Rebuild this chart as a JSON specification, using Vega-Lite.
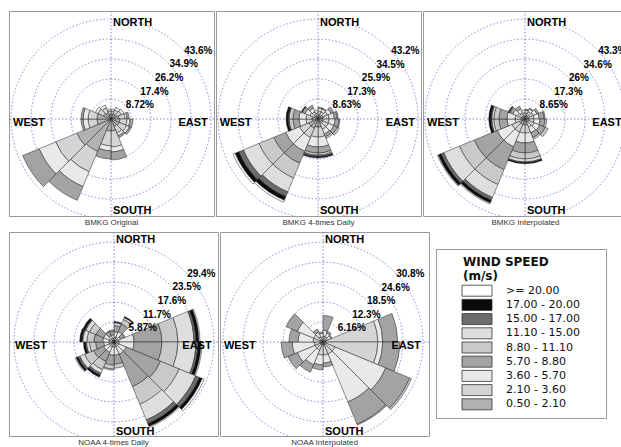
{
"$schema":"https://vega.github.io/schema/vega-lite/v6.json",
"padding":{"left":8,"top":10,"right":0,"bottom":0},
"background":"white",
"config":{"font":"Liberation Sans","view":{"stroke":"#9a9a9a","strokeWidth":1},"title":{"fontSize":8,"fontWeight":"normal","color":"#333","offset":3,"orient":"bottom"}},
"datasets":{
"w":[
{"p":1,"d":0,"c1":2.2,"c2":1.3,"c3":0.9},
{"p":1,"d":22.5,"c1":2.6,"c2":1.7,"c3":1.3},
{"p":1,"d":45,"c1":2.6,"c2":2.2,"c3":1.3},
{"p":1,"d":67.5,"c1":3.5,"c2":2.6,"c3":0.9,"c4":0.9},
{"p":1,"d":90,"c1":3.9,"c2":3.1,"c3":1.3,"c4":1.3},
{"p":1,"d":112.5,"c1":3.9,"c2":3.5,"c3":1.3,"c4":0.9},
{"p":1,"d":135,"c1":3.5,"c2":3.1,"c3":1.3,"c4":0.9},
{"p":1,"d":157.5,"c1":5.2,"c2":7.0,"c3":2.2,"c4":3.5},
{"p":1,"d":180,"c1":5.2,"c2":6.5,"c3":2.2,"c4":3.5},
{"p":1,"d":202.5,"c1":15.3,"c2":9.6,"c3":7.0,"c4":6.5},
{"p":1,"d":225,"c1":16.1,"c2":10.0,"c3":7.8,"c4":7.8},
{"p":1,"d":247.5,"c1":6.1,"c2":3.9,"c3":2.2,"c4":0.9},
{"p":1,"d":270,"c1":6.1,"c2":3.9,"c3":2.2,"c4":0.9},
{"p":1,"d":292.5,"c1":3.5,"c2":2.6,"c3":1.3},
{"p":1,"d":315,"c1":3.1,"c2":2.2,"c3":1.3},
{"p":1,"d":337.5,"c1":2.2,"c2":1.3,"c3":0.9},
{"p":2,"d":0,"c1":1.7,"c2":1.7,"c3":1.3,"c4":0.4},
{"p":2,"d":22.5,"c1":1.7,"c2":1.7,"c3":1.3,"c4":0.4},
{"p":2,"d":45,"c1":2.2,"c2":2.2,"c3":1.7,"c4":1.3},
{"p":2,"d":67.5,"c1":2.2,"c2":2.6,"c3":2.2,"c4":1.3,"c5":0.4},
{"p":2,"d":90,"c1":2.2,"c2":2.6,"c3":2.6,"c4":1.7,"c5":0.4},
{"p":2,"d":112.5,"c1":2.2,"c2":2.6,"c3":2.6,"c4":1.7,"c5":0.9},
{"p":2,"d":135,"c1":2.2,"c2":2.6,"c3":2.2,"c4":1.3,"c5":0.8},
{"p":2,"d":157.5,"c1":3.5,"c2":4.3,"c3":4.3,"c4":2.6,"c5":0.9,"c6":0.4,"c7":0.4,"c8":0.4},
{"p":2,"d":180,"c1":3.5,"c2":4.3,"c3":4.3,"c4":2.6,"c5":0.9,"c6":0.4,"c7":0.4,"c8":0.4},
{"p":2,"d":202.5,"c1":4.3,"c2":4.3,"c3":6.5,"c4":5.6,"c5":6.9,"c6":6.5,"c7":2.2,"c8":1.7,"c9":0.9},
{"p":2,"d":225,"c1":4.3,"c2":4.3,"c3":6.5,"c4":5.6,"c5":6.9,"c6":7.3,"c7":2.2,"c8":1.7,"c9":0.9},
{"p":2,"d":247.5,"c1":2.6,"c2":2.6,"c3":3.0,"c4":2.6,"c5":1.7,"c7":0.4,"c8":0.9},
{"p":2,"d":270,"c1":2.6,"c2":2.6,"c3":3.0,"c4":2.6,"c5":1.7,"c7":0.4,"c8":0.9},
{"p":2,"d":292.5,"c1":1.7,"c2":2.2,"c3":2.2,"c4":1.3,"c8":0.4},
{"p":2,"d":315,"c1":1.7,"c2":1.7,"c3":1.7,"c4":1.3},
{"p":2,"d":337.5,"c1":1.3,"c2":1.3,"c3":1.3},
{"p":3,"d":0,"c1":1.3,"c2":1.3,"c3":1.3,"c4":0.4},
{"p":3,"d":22.5,"c1":1.7,"c2":1.7,"c3":1.3,"c4":0.4},
{"p":3,"d":45,"c1":1.7,"c2":2.2,"c3":1.7,"c4":0.9},
{"p":3,"d":67.5,"c1":1.7,"c2":2.2,"c3":2.2,"c4":2.2,"c5":0.4},
{"p":3,"d":90,"c1":1.7,"c2":2.2,"c3":2.6,"c4":2.2,"c5":0.8},
{"p":3,"d":112.5,"c1":1.7,"c2":2.6,"c3":2.6,"c4":2.6,"c5":1.3},
{"p":3,"d":135,"c1":1.7,"c2":2.2,"c3":2.6,"c4":2.2,"c5":0.8},
{"p":3,"d":157.5,"c1":2.6,"c2":3.5,"c3":4.3,"c4":4.3,"c5":2.6,"c6":1.3,"c7":0.4,"c8":0.4},
{"p":3,"d":180,"c1":2.6,"c2":3.5,"c3":4.3,"c4":4.3,"c5":2.6,"c6":1.3,"c7":0.4,"c8":0.4},
{"p":3,"d":202.5,"c1":2.6,"c2":3.5,"c3":6.9,"c4":10.8,"c5":6.9,"c6":6.1,"c7":1.3,"c8":1.3,"c9":0.4},
{"p":3,"d":225,"c1":2.6,"c2":3.5,"c3":6.9,"c4":10.8,"c5":6.9,"c6":7.4,"c7":1.3,"c8":1.3,"c9":0.4},
{"p":3,"d":247.5,"c1":1.7,"c2":2.6,"c3":3.5,"c4":3.5,"c5":2.2,"c6":0.9,"c7":0.4,"c8":0.9},
{"p":3,"d":270,"c1":1.7,"c2":2.6,"c3":3.5,"c4":3.5,"c5":2.2,"c6":0.9,"c7":0.4,"c8":0.9},
{"p":3,"d":292.5,"c1":1.3,"c2":2.2,"c3":2.2,"c4":1.3,"c5":0.4,"c8":0.4},
{"p":3,"d":315,"c1":1.3,"c2":1.7,"c3":1.7,"c4":1.3},
{"p":3,"d":337.5,"c1":1.3,"c2":1.3,"c3":1.3},
{"p":4,"d":0,"c1":0.6,"c2":0.9,"c3":1.5,"c4":1.8,"c5":0.9,"c8":0.3},
{"p":4,"d":22.5,"c1":0.6,"c2":0.9,"c3":1.8,"c4":2.4,"c5":1.5,"c6":0.6,"c8":0.3},
{"p":4,"d":45,"c1":0.6,"c2":0.6,"c3":0.9,"c4":1.2,"c5":0.3},
{"p":4,"d":67.5,"c1":0.6,"c2":0.9,"c3":4.4,"c4":8.2,"c5":4.7,"c6":4.7,"c7":0.6,"c8":0.9,"c9":0.3},
{"p":4,"d":90,"c1":0.6,"c2":0.9,"c3":4.4,"c4":8.2,"c5":4.7,"c6":5.3,"c7":0.6,"c8":0.9,"c9":0.3},
{"p":4,"d":112.5,"c1":0.6,"c2":0.9,"c3":2.4,"c4":10.9,"c5":5.9,"c6":5.3,"c7":1.2,"c8":0.9,"c9":0.6},
{"p":4,"d":135,"c1":0.6,"c2":0.9,"c3":2.4,"c4":10.3,"c5":5.6,"c6":5.0,"c7":1.2,"c8":0.9,"c9":0.3},
{"p":4,"d":157.5,"c1":0.6,"c2":0.9,"c3":2.4,"c4":2.6,"c5":1.2},
{"p":4,"d":180,"c1":0.6,"c2":0.9,"c3":2.4,"c4":2.9,"c5":1.2,"c6":0.3},
{"p":4,"d":202.5,"c1":0.6,"c2":0.9,"c3":1.8,"c4":2.9,"c5":2.6,"c6":1.2,"c7":0.6,"c8":0.6},
{"p":4,"d":225,"c1":0.6,"c2":0.9,"c3":1.8,"c4":3.2,"c5":2.9,"c6":1.5,"c7":0.6,"c8":0.6,"c9":0.3},
{"p":4,"d":247.5,"c1":0.6,"c2":0.9,"c3":1.5,"c4":2.4,"c5":1.8,"c6":0.9,"c7":0.3,"c8":0.6},
{"p":4,"d":270,"c1":0.6,"c2":0.9,"c3":1.8,"c4":2.6,"c5":2.1,"c6":1.2,"c7":0.3,"c8":0.6},
{"p":4,"d":292.5,"c1":0.6,"c2":0.9,"c3":1.8,"c4":2.4,"c5":2.1,"c6":1.2,"c7":0.3,"c8":0.6},
{"p":4,"d":315,"c1":0.6,"c2":0.6,"c3":0.9,"c4":1.2,"c5":0.3},
{"p":4,"d":337.5,"c1":0.6,"c2":0.6,"c3":0.9,"c4":1.2,"c5":0.3},
{"p":5,"d":0,"c1":0.6,"c2":1.2,"c3":1.8,"c4":4.6},
{"p":5,"d":22.5,"c1":0.6,"c2":1.2,"c3":1.2,"c4":0.6},
{"p":5,"d":45,"c1":0.6,"c2":0.9,"c3":1.2,"c4":0.3},
{"p":5,"d":67.5,"c1":0.9,"c2":16.0,"c3":1.5,"c4":4.6},
{"p":5,"d":90,"c1":0.9,"c2":16.0,"c3":1.5,"c4":5.3},
{"p":5,"d":112.5,"c1":0.9,"c2":3.1,"c3":16.9,"c4":8.0,"c5":0.6},
{"p":5,"d":135,"c1":0.9,"c2":3.1,"c3":16.0,"c4":7.4,"c5":0.3},
{"p":5,"d":157.5,"c1":0.9,"c2":3.1,"c3":2.5,"c4":1.2},
{"p":5,"d":180,"c1":0.9,"c2":3.1,"c3":3.1,"c4":1.5},
{"p":5,"d":202.5,"c1":0.9,"c2":1.8,"c3":4.9,"c4":2.5},
{"p":5,"d":225,"c1":0.9,"c2":1.8,"c3":5.9,"c4":3.1},
{"p":5,"d":247.5,"c1":0.9,"c2":1.8,"c3":6.8,"c4":3.4},
{"p":5,"d":270,"c1":0.9,"c2":2.2,"c3":4.6,"c4":2.8},
{"p":5,"d":292.5,"c1":0.9,"c2":2.2,"c3":5.5,"c4":3.7},
{"p":5,"d":315,"c1":0.6,"c2":1.2,"c3":1.5,"c4":1.0},
{"p":5,"d":337.5,"c1":0.6,"c2":0.9,"c3":1.2,"c4":0.4}
],
"rg":[
{"p":1,"r":8.72,"l":"8.72%"},{"p":1,"r":17.4,"l":"17.4%"},{"p":1,"r":26.2,"l":"26.2%"},{"p":1,"r":34.9,"l":"34.9%"},{"p":1,"r":43.6,"l":"43.6%"},
{"p":2,"r":8.63,"l":"8.63%"},{"p":2,"r":17.3,"l":"17.3%"},{"p":2,"r":25.9,"l":"25.9%"},{"p":2,"r":34.5,"l":"34.5%"},{"p":2,"r":43.2,"l":"43.2%"},
{"p":3,"r":8.65,"l":"8.65%"},{"p":3,"r":17.3,"l":"17.3%"},{"p":3,"r":26,"l":"26%"},{"p":3,"r":34.6,"l":"34.6%"},{"p":3,"r":43.3,"l":"43.3%"},
{"p":4,"r":5.87,"l":"5.87%"},{"p":4,"r":11.7,"l":"11.7%"},{"p":4,"r":17.6,"l":"17.6%"},{"p":4,"r":23.5,"l":"23.5%"},{"p":4,"r":29.4,"l":"29.4%"},
{"p":5,"r":6.16,"l":"6.16%"},{"p":5,"r":12.3,"l":"12.3%"},{"p":5,"r":18.5,"l":"18.5%"},{"p":5,"r":24.6,"l":"24.6%"},{"p":5,"r":30.8,"l":"30.8%"}
],
"cls":[
{"k":"c9","label":">= 20.00"},{"k":"c8","label":"17.00 - 20.00"},{"k":"c7","label":"15.00 - 17.00"},{"k":"c6","label":"11.10 - 15.00"},{"k":"c5","label":"8.80 - 11.10"},{"k":"c4","label":"5.70 - 8.80"},{"k":"c3","label":"3.60 - 5.70"},{"k":"c2","label":"2.10 - 3.60"},{"k":"c1","label":"0.50 - 2.10"}
]
},
"spacing":1,
"resolve":{"scale":{"x":"independent","y":"independent","theta":"independent","radius":"independent","fill":"independent"}},
"vconcat":[
{"spacing":0,
"resolve":{"scale":{"x":"independent","y":"independent","theta":"independent","radius":"independent","fill":"independent"}},
"hconcat":[
{"width":205,"height":205,"title":{"text":"BMKG Original"},
"layer":[
{"data":{"name":"rg"},"transform":[{"filter":"datum.p == 1"}],
"mark":{"type":"arc","filled":false,"stroke":"#7b7bd8","strokeWidth":0.9,"strokeDash":[1.5,2],"theta":0,"theta2":6.2832,"clip":true},
"encoding":{"x":{"datum":0,"type":"quantitative","scale":{"domain":[-102,103],"nice":false,"zero":false},"axis":null},"y":{"datum":0,"type":"quantitative","scale":{"domain":[-97,108],"nice":false,"zero":false},"axis":null},"radius":{"field":"r","type":"quantitative","scale":{"type":"linear","domain":[0,43.6],"range":[0,100],"nice":false},"stack":null}}},
{"data":{"values":[{}]},"mark":{"type":"rule","stroke":"#7b7bd8","strokeWidth":0.9,"strokeDash":[1.5,2]},
"encoding":{"x":{"datum":0,"type":"quantitative","scale":{"domain":[-102,103],"nice":false,"zero":false},"axis":null}}},
{"data":{"values":[{}]},"mark":{"type":"rule","stroke":"#7b7bd8","strokeWidth":0.9,"strokeDash":[1.5,2]},
"encoding":{"y":{"datum":0,"type":"quantitative","scale":{"domain":[-97,108],"nice":false,"zero":false},"axis":null}}},
{"data":{"name":"w"},"transform":[{"filter":"datum.p == 1"},{"fold":["c1","c2","c3","c4","c5","c6","c7","c8","c9"],"as":["k","v"]},{"filter":"datum.v > 0"},{"bin":{"step":22.5,"extent":[0,360],"nice":false},"field":"d","as":["a0","a1"]},{"stack":"v","groupby":["d"],"sort":[{"field":"k","order":"ascending"}],"as":["r0","r1"]}],
"mark":{"type":"arc","stroke":"#222","strokeWidth":0.5},
"encoding":{"x":{"datum":0,"type":"quantitative","scale":{"domain":[-102,103],"nice":false,"zero":false},"axis":null},"y":{"datum":0,"type":"quantitative","scale":{"domain":[-97,108],"nice":false,"zero":false},"axis":null},
"theta":{"field":"a0","type":"quantitative","scale":{"type":"linear","domain":[0,360],"range":[0,6.2832],"nice":false,"zero":false},"stack":null},"theta2":{"field":"a1"},
"radius":{"field":"r1","type":"quantitative","scale":{"type":"linear","domain":[0,43.6],"range":[0,100],"nice":false},"stack":null},"radius2":{"field":"r0"},
"fill":{"field":"k","type":"nominal","scale":{"domain":["c1","c2","c3","c4","c5","c6","c7","c8","c9"],"range":["#b2b2b2","#d4d4d4","#e9e9e9","#a3a3a3","#c9c9c9","#dedede","#6c6c6c","#0a0a0a","#ffffff"]},"legend":null}}},
{"data":{"name":"rg"},"transform":[{"filter":"datum.p == 1"}],
"mark":{"type":"text","align":"left","baseline":"middle","fontWeight":"bold","fontSize":10,"clip":true},
"encoding":{"x":{"datum":0,"type":"quantitative","scale":{"domain":[-102,103],"nice":false,"zero":false},"axis":null},"y":{"datum":0,"type":"quantitative","scale":{"domain":[-97,108],"nice":false,"zero":false},"axis":null},"theta":{"datum":47,"type":"quantitative","scale":{"type":"linear","domain":[0,360],"range":[0,6.2832],"nice":false,"zero":false},"stack":null},"radius":{"field":"r","type":"quantitative","scale":{"type":"linear","domain":[0,43.6],"range":[0,100],"nice":false},"stack":null},"text":{"field":"l"}}},
{"data":{"values":[{"t":"NORTH","a":0}]},"mark":{"type":"text","align":"left","baseline":"middle","dx":2,"fontWeight":"bold","fontSize":11,"clip":true},
"encoding":{"x":{"datum":0,"type":"quantitative","scale":{"domain":[-102,103],"nice":false,"zero":false},"axis":null},"y":{"datum":0,"type":"quantitative","scale":{"domain":[-97,108],"nice":false,"zero":false},"axis":null},"theta":{"field":"a","type":"quantitative","scale":{"type":"linear","domain":[0,360],"range":[0,6.2832],"nice":false,"zero":false},"stack":null},"radius":{"datum":41.9,"type":"quantitative","scale":{"type":"linear","domain":[0,43.6],"range":[0,100],"nice":false},"stack":null},"text":{"field":"t"}}},
{"data":{"values":[{"t":"SOUTH","a":180}]},"mark":{"type":"text","align":"left","baseline":"middle","dx":2,"fontWeight":"bold","fontSize":11,"clip":true},
"encoding":{"x":{"datum":0,"type":"quantitative","scale":{"domain":[-102,103],"nice":false,"zero":false},"axis":null},"y":{"datum":0,"type":"quantitative","scale":{"domain":[-97,108],"nice":false,"zero":false},"axis":null},"theta":{"field":"a","type":"quantitative","scale":{"type":"linear","domain":[0,360],"range":[0,6.2832],"nice":false,"zero":false},"stack":null},"radius":{"datum":40.1,"type":"quantitative","scale":{"type":"linear","domain":[0,43.6],"range":[0,100],"nice":false},"stack":null},"text":{"field":"t"}}},
{"data":{"values":[{"t":"WEST","a":270},{"t":"EAST","a":90}]},"mark":{"type":"text","align":"center","baseline":"middle","dy":4,"fontWeight":"bold","fontSize":11,"clip":true},
"encoding":{"x":{"datum":0,"type":"quantitative","scale":{"domain":[-102,103],"nice":false,"zero":false},"axis":null},"y":{"datum":0,"type":"quantitative","scale":{"domain":[-97,108],"nice":false,"zero":false},"axis":null},"theta":{"field":"a","type":"quantitative","scale":{"type":"linear","domain":[0,360],"range":[0,6.2832],"nice":false,"zero":false},"stack":null},"radius":{"datum":35.8,"type":"quantitative","scale":{"type":"linear","domain":[0,43.6],"range":[0,100],"nice":false},"stack":null},"text":{"field":"t"}}}
]},
{"width":205,"height":205,"title":{"text":"BMKG 4-times Daily"},
"layer":[
{"data":{"name":"rg"},"transform":[{"filter":"datum.p == 2"}],
"mark":{"type":"arc","filled":false,"stroke":"#7b7bd8","strokeWidth":0.9,"strokeDash":[1.5,2],"theta":0,"theta2":6.2832,"clip":true},
"encoding":{"x":{"datum":0,"type":"quantitative","scale":{"domain":[-102,103],"nice":false,"zero":false},"axis":null},"y":{"datum":0,"type":"quantitative","scale":{"domain":[-97,108],"nice":false,"zero":false},"axis":null},"radius":{"field":"r","type":"quantitative","scale":{"type":"linear","domain":[0,43.2],"range":[0,100],"nice":false},"stack":null}}},
{"data":{"values":[{}]},"mark":{"type":"rule","stroke":"#7b7bd8","strokeWidth":0.9,"strokeDash":[1.5,2]},
"encoding":{"x":{"datum":0,"type":"quantitative","scale":{"domain":[-102,103],"nice":false,"zero":false},"axis":null}}},
{"data":{"values":[{}]},"mark":{"type":"rule","stroke":"#7b7bd8","strokeWidth":0.9,"strokeDash":[1.5,2]},
"encoding":{"y":{"datum":0,"type":"quantitative","scale":{"domain":[-97,108],"nice":false,"zero":false},"axis":null}}},
{"data":{"name":"w"},"transform":[{"filter":"datum.p == 2"},{"fold":["c1","c2","c3","c4","c5","c6","c7","c8","c9"],"as":["k","v"]},{"filter":"datum.v > 0"},{"bin":{"step":22.5,"extent":[0,360],"nice":false},"field":"d","as":["a0","a1"]},{"stack":"v","groupby":["d"],"sort":[{"field":"k","order":"ascending"}],"as":["r0","r1"]}],
"mark":{"type":"arc","stroke":"#222","strokeWidth":0.5},
"encoding":{"x":{"datum":0,"type":"quantitative","scale":{"domain":[-102,103],"nice":false,"zero":false},"axis":null},"y":{"datum":0,"type":"quantitative","scale":{"domain":[-97,108],"nice":false,"zero":false},"axis":null},
"theta":{"field":"a0","type":"quantitative","scale":{"type":"linear","domain":[0,360],"range":[0,6.2832],"nice":false,"zero":false},"stack":null},"theta2":{"field":"a1"},
"radius":{"field":"r1","type":"quantitative","scale":{"type":"linear","domain":[0,43.2],"range":[0,100],"nice":false},"stack":null},"radius2":{"field":"r0"},
"fill":{"field":"k","type":"nominal","scale":{"domain":["c1","c2","c3","c4","c5","c6","c7","c8","c9"],"range":["#b2b2b2","#d4d4d4","#e9e9e9","#a3a3a3","#c9c9c9","#dedede","#6c6c6c","#0a0a0a","#ffffff"]},"legend":null}}},
{"data":{"name":"rg"},"transform":[{"filter":"datum.p == 2"}],
"mark":{"type":"text","align":"left","baseline":"middle","fontWeight":"bold","fontSize":10,"clip":true},
"encoding":{"x":{"datum":0,"type":"quantitative","scale":{"domain":[-102,103],"nice":false,"zero":false},"axis":null},"y":{"datum":0,"type":"quantitative","scale":{"domain":[-97,108],"nice":false,"zero":false},"axis":null},"theta":{"datum":47,"type":"quantitative","scale":{"type":"linear","domain":[0,360],"range":[0,6.2832],"nice":false,"zero":false},"stack":null},"radius":{"field":"r","type":"quantitative","scale":{"type":"linear","domain":[0,43.2],"range":[0,100],"nice":false},"stack":null},"text":{"field":"l"}}},
{"data":{"values":[{"t":"NORTH","a":0}]},"mark":{"type":"text","align":"left","baseline":"middle","dx":2,"fontWeight":"bold","fontSize":11,"clip":true},
"encoding":{"x":{"datum":0,"type":"quantitative","scale":{"domain":[-102,103],"nice":false,"zero":false},"axis":null},"y":{"datum":0,"type":"quantitative","scale":{"domain":[-97,108],"nice":false,"zero":false},"axis":null},"theta":{"field":"a","type":"quantitative","scale":{"type":"linear","domain":[0,360],"range":[0,6.2832],"nice":false,"zero":false},"stack":null},"radius":{"datum":41.5,"type":"quantitative","scale":{"type":"linear","domain":[0,43.2],"range":[0,100],"nice":false},"stack":null},"text":{"field":"t"}}},
{"data":{"values":[{"t":"SOUTH","a":180}]},"mark":{"type":"text","align":"left","baseline":"middle","dx":2,"fontWeight":"bold","fontSize":11,"clip":true},
"encoding":{"x":{"datum":0,"type":"quantitative","scale":{"domain":[-102,103],"nice":false,"zero":false},"axis":null},"y":{"datum":0,"type":"quantitative","scale":{"domain":[-97,108],"nice":false,"zero":false},"axis":null},"theta":{"field":"a","type":"quantitative","scale":{"type":"linear","domain":[0,360],"range":[0,6.2832],"nice":false,"zero":false},"stack":null},"radius":{"datum":39.7,"type":"quantitative","scale":{"type":"linear","domain":[0,43.2],"range":[0,100],"nice":false},"stack":null},"text":{"field":"t"}}},
{"data":{"values":[{"t":"WEST","a":270},{"t":"EAST","a":90}]},"mark":{"type":"text","align":"center","baseline":"middle","dy":4,"fontWeight":"bold","fontSize":11,"clip":true},
"encoding":{"x":{"datum":0,"type":"quantitative","scale":{"domain":[-102,103],"nice":false,"zero":false},"axis":null},"y":{"datum":0,"type":"quantitative","scale":{"domain":[-97,108],"nice":false,"zero":false},"axis":null},"theta":{"field":"a","type":"quantitative","scale":{"type":"linear","domain":[0,360],"range":[0,6.2832],"nice":false,"zero":false},"stack":null},"radius":{"datum":35.6,"type":"quantitative","scale":{"type":"linear","domain":[0,43.2],"range":[0,100],"nice":false},"stack":null},"text":{"field":"t"}}}
]},
{"width":205,"height":205,"title":{"text":"BMKG Interpolated"},
"layer":[
{"data":{"name":"rg"},"transform":[{"filter":"datum.p == 3"}],
"mark":{"type":"arc","filled":false,"stroke":"#7b7bd8","strokeWidth":0.9,"strokeDash":[1.5,2],"theta":0,"theta2":6.2832,"clip":true},
"encoding":{"x":{"datum":0,"type":"quantitative","scale":{"domain":[-102,103],"nice":false,"zero":false},"axis":null},"y":{"datum":0,"type":"quantitative","scale":{"domain":[-97,108],"nice":false,"zero":false},"axis":null},"radius":{"field":"r","type":"quantitative","scale":{"type":"linear","domain":[0,43.3],"range":[0,100],"nice":false},"stack":null}}},
{"data":{"values":[{}]},"mark":{"type":"rule","stroke":"#7b7bd8","strokeWidth":0.9,"strokeDash":[1.5,2]},
"encoding":{"x":{"datum":0,"type":"quantitative","scale":{"domain":[-102,103],"nice":false,"zero":false},"axis":null}}},
{"data":{"values":[{}]},"mark":{"type":"rule","stroke":"#7b7bd8","strokeWidth":0.9,"strokeDash":[1.5,2]},
"encoding":{"y":{"datum":0,"type":"quantitative","scale":{"domain":[-97,108],"nice":false,"zero":false},"axis":null}}},
{"data":{"name":"w"},"transform":[{"filter":"datum.p == 3"},{"fold":["c1","c2","c3","c4","c5","c6","c7","c8","c9"],"as":["k","v"]},{"filter":"datum.v > 0"},{"bin":{"step":22.5,"extent":[0,360],"nice":false},"field":"d","as":["a0","a1"]},{"stack":"v","groupby":["d"],"sort":[{"field":"k","order":"ascending"}],"as":["r0","r1"]}],
"mark":{"type":"arc","stroke":"#222","strokeWidth":0.5},
"encoding":{"x":{"datum":0,"type":"quantitative","scale":{"domain":[-102,103],"nice":false,"zero":false},"axis":null},"y":{"datum":0,"type":"quantitative","scale":{"domain":[-97,108],"nice":false,"zero":false},"axis":null},
"theta":{"field":"a0","type":"quantitative","scale":{"type":"linear","domain":[0,360],"range":[0,6.2832],"nice":false,"zero":false},"stack":null},"theta2":{"field":"a1"},
"radius":{"field":"r1","type":"quantitative","scale":{"type":"linear","domain":[0,43.3],"range":[0,100],"nice":false},"stack":null},"radius2":{"field":"r0"},
"fill":{"field":"k","type":"nominal","scale":{"domain":["c1","c2","c3","c4","c5","c6","c7","c8","c9"],"range":["#b2b2b2","#d4d4d4","#e9e9e9","#a3a3a3","#c9c9c9","#dedede","#6c6c6c","#0a0a0a","#ffffff"]},"legend":null}}},
{"data":{"name":"rg"},"transform":[{"filter":"datum.p == 3"}],
"mark":{"type":"text","align":"left","baseline":"middle","fontWeight":"bold","fontSize":10,"clip":true},
"encoding":{"x":{"datum":0,"type":"quantitative","scale":{"domain":[-102,103],"nice":false,"zero":false},"axis":null},"y":{"datum":0,"type":"quantitative","scale":{"domain":[-97,108],"nice":false,"zero":false},"axis":null},"theta":{"datum":47,"type":"quantitative","scale":{"type":"linear","domain":[0,360],"range":[0,6.2832],"nice":false,"zero":false},"stack":null},"radius":{"field":"r","type":"quantitative","scale":{"type":"linear","domain":[0,43.3],"range":[0,100],"nice":false},"stack":null},"text":{"field":"l"}}},
{"data":{"values":[{"t":"NORTH","a":0}]},"mark":{"type":"text","align":"left","baseline":"middle","dx":2,"fontWeight":"bold","fontSize":11,"clip":true},
"encoding":{"x":{"datum":0,"type":"quantitative","scale":{"domain":[-102,103],"nice":false,"zero":false},"axis":null},"y":{"datum":0,"type":"quantitative","scale":{"domain":[-97,108],"nice":false,"zero":false},"axis":null},"theta":{"field":"a","type":"quantitative","scale":{"type":"linear","domain":[0,360],"range":[0,6.2832],"nice":false,"zero":false},"stack":null},"radius":{"datum":41.6,"type":"quantitative","scale":{"type":"linear","domain":[0,43.3],"range":[0,100],"nice":false},"stack":null},"text":{"field":"t"}}},
{"data":{"values":[{"t":"SOUTH","a":180}]},"mark":{"type":"text","align":"left","baseline":"middle","dx":2,"fontWeight":"bold","fontSize":11,"clip":true},
"encoding":{"x":{"datum":0,"type":"quantitative","scale":{"domain":[-102,103],"nice":false,"zero":false},"axis":null},"y":{"datum":0,"type":"quantitative","scale":{"domain":[-97,108],"nice":false,"zero":false},"axis":null},"theta":{"field":"a","type":"quantitative","scale":{"type":"linear","domain":[0,360],"range":[0,6.2832],"nice":false,"zero":false},"stack":null},"radius":{"datum":39.8,"type":"quantitative","scale":{"type":"linear","domain":[0,43.3],"range":[0,100],"nice":false},"stack":null},"text":{"field":"t"}}},
{"data":{"values":[{"t":"WEST","a":270},{"t":"EAST","a":90}]},"mark":{"type":"text","align":"center","baseline":"middle","dy":4,"fontWeight":"bold","fontSize":11,"clip":true},
"encoding":{"x":{"datum":0,"type":"quantitative","scale":{"domain":[-102,103],"nice":false,"zero":false},"axis":null},"y":{"datum":0,"type":"quantitative","scale":{"domain":[-97,108],"nice":false,"zero":false},"axis":null},"theta":{"field":"a","type":"quantitative","scale":{"type":"linear","domain":[0,360],"range":[0,6.2832],"nice":false,"zero":false},"stack":null},"radius":{"datum":35.5,"type":"quantitative","scale":{"type":"linear","domain":[0,43.3],"range":[0,100],"nice":false},"stack":null},"text":{"field":"t"}}}
]}
]},
{"spacing":5,
"resolve":{"scale":{"x":"independent","y":"independent","theta":"independent","radius":"independent","fill":"independent"}},
"hconcat":[
{"spacing":0,
"resolve":{"scale":{"x":"independent","y":"independent","theta":"independent","radius":"independent","fill":"independent"}},
"hconcat":[
{"width":209,"height":204,"title":{"text":"NOAA 4-times Daily"},
"layer":[
{"data":{"name":"rg"},"transform":[{"filter":"datum.p == 4"}],
"mark":{"type":"arc","filled":false,"stroke":"#7b7bd8","strokeWidth":0.9,"strokeDash":[1.5,2],"theta":0,"theta2":6.2832,"clip":true},
"encoding":{"x":{"datum":0,"type":"quantitative","scale":{"domain":[-105,104],"nice":false,"zero":false},"axis":null},"y":{"datum":0,"type":"quantitative","scale":{"domain":[-94,110],"nice":false,"zero":false},"axis":null},"radius":{"field":"r","type":"quantitative","scale":{"type":"linear","domain":[0,29.4],"range":[0,100],"nice":false},"stack":null}}},
{"data":{"values":[{}]},"mark":{"type":"rule","stroke":"#7b7bd8","strokeWidth":0.9,"strokeDash":[1.5,2]},
"encoding":{"x":{"datum":0,"type":"quantitative","scale":{"domain":[-105,104],"nice":false,"zero":false},"axis":null}}},
{"data":{"values":[{}]},"mark":{"type":"rule","stroke":"#7b7bd8","strokeWidth":0.9,"strokeDash":[1.5,2]},
"encoding":{"y":{"datum":0,"type":"quantitative","scale":{"domain":[-94,110],"nice":false,"zero":false},"axis":null}}},
{"data":{"name":"w"},"transform":[{"filter":"datum.p == 4"},{"fold":["c1","c2","c3","c4","c5","c6","c7","c8","c9"],"as":["k","v"]},{"filter":"datum.v > 0"},{"bin":{"step":22.5,"extent":[0,360],"nice":false},"field":"d","as":["a0","a1"]},{"stack":"v","groupby":["d"],"sort":[{"field":"k","order":"ascending"}],"as":["r0","r1"]}],
"mark":{"type":"arc","stroke":"#222","strokeWidth":0.5},
"encoding":{"x":{"datum":0,"type":"quantitative","scale":{"domain":[-105,104],"nice":false,"zero":false},"axis":null},"y":{"datum":0,"type":"quantitative","scale":{"domain":[-94,110],"nice":false,"zero":false},"axis":null},
"theta":{"field":"a0","type":"quantitative","scale":{"type":"linear","domain":[0,360],"range":[0,6.2832],"nice":false,"zero":false},"stack":null},"theta2":{"field":"a1"},
"radius":{"field":"r1","type":"quantitative","scale":{"type":"linear","domain":[0,29.4],"range":[0,100],"nice":false},"stack":null},"radius2":{"field":"r0"},
"fill":{"field":"k","type":"nominal","scale":{"domain":["c1","c2","c3","c4","c5","c6","c7","c8","c9"],"range":["#b2b2b2","#d4d4d4","#e9e9e9","#a3a3a3","#c9c9c9","#dedede","#6c6c6c","#0a0a0a","#ffffff"]},"legend":null}}},
{"data":{"name":"rg"},"transform":[{"filter":"datum.p == 4"}],
"mark":{"type":"text","align":"left","baseline":"middle","fontWeight":"bold","fontSize":10,"clip":true},
"encoding":{"x":{"datum":0,"type":"quantitative","scale":{"domain":[-105,104],"nice":false,"zero":false},"axis":null},"y":{"datum":0,"type":"quantitative","scale":{"domain":[-94,110],"nice":false,"zero":false},"axis":null},"theta":{"datum":47,"type":"quantitative","scale":{"type":"linear","domain":[0,360],"range":[0,6.2832],"nice":false,"zero":false},"stack":null},"radius":{"field":"r","type":"quantitative","scale":{"type":"linear","domain":[0,29.4],"range":[0,100],"nice":false},"stack":null},"text":{"field":"l"}}},
{"data":{"values":[{"t":"NORTH","a":0}]},"mark":{"type":"text","align":"left","baseline":"middle","dx":2,"fontWeight":"bold","fontSize":11,"clip":true},
"encoding":{"x":{"datum":0,"type":"quantitative","scale":{"domain":[-105,104],"nice":false,"zero":false},"axis":null},"y":{"datum":0,"type":"quantitative","scale":{"domain":[-94,110],"nice":false,"zero":false},"axis":null},"theta":{"field":"a","type":"quantitative","scale":{"type":"linear","domain":[0,360],"range":[0,6.2832],"nice":false,"zero":false},"stack":null},"radius":{"datum":30.0,"type":"quantitative","scale":{"type":"linear","domain":[0,29.4],"range":[0,100],"nice":false},"stack":null},"text":{"field":"t"}}},
{"data":{"values":[{"t":"SOUTH","a":180}]},"mark":{"type":"text","align":"left","baseline":"middle","dx":2,"fontWeight":"bold","fontSize":11,"clip":true},
"encoding":{"x":{"datum":0,"type":"quantitative","scale":{"domain":[-105,104],"nice":false,"zero":false},"axis":null},"y":{"datum":0,"type":"quantitative","scale":{"domain":[-94,110],"nice":false,"zero":false},"axis":null},"theta":{"field":"a","type":"quantitative","scale":{"type":"linear","domain":[0,360],"range":[0,6.2832],"nice":false,"zero":false},"stack":null},"radius":{"datum":26.5,"type":"quantitative","scale":{"type":"linear","domain":[0,29.4],"range":[0,100],"nice":false},"stack":null},"text":{"field":"t"}}},
{"data":{"values":[{"t":"WEST","a":270},{"t":"EAST","a":90}]},"mark":{"type":"text","align":"center","baseline":"middle","dy":4,"fontWeight":"bold","fontSize":11,"clip":true},
"encoding":{"x":{"datum":0,"type":"quantitative","scale":{"domain":[-105,104],"nice":false,"zero":false},"axis":null},"y":{"datum":0,"type":"quantitative","scale":{"domain":[-94,110],"nice":false,"zero":false},"axis":null},"theta":{"field":"a","type":"quantitative","scale":{"type":"linear","domain":[0,360],"range":[0,6.2832],"nice":false,"zero":false},"stack":null},"radius":{"datum":24.4,"type":"quantitative","scale":{"type":"linear","domain":[0,29.4],"range":[0,100],"nice":false},"stack":null},"text":{"field":"t"}}}
]},
{"width":209,"height":204,"title":{"text":"NOAA Interpolated"},
"layer":[
{"data":{"name":"rg"},"transform":[{"filter":"datum.p == 5"}],
"mark":{"type":"arc","filled":false,"stroke":"#7b7bd8","strokeWidth":0.9,"strokeDash":[1.5,2],"theta":0,"theta2":6.2832,"clip":true},
"encoding":{"x":{"datum":0,"type":"quantitative","scale":{"domain":[-103,106],"nice":false,"zero":false},"axis":null},"y":{"datum":0,"type":"quantitative","scale":{"domain":[-94,110],"nice":false,"zero":false},"axis":null},"radius":{"field":"r","type":"quantitative","scale":{"type":"linear","domain":[0,30.8],"range":[0,100],"nice":false},"stack":null}}},
{"data":{"values":[{}]},"mark":{"type":"rule","stroke":"#7b7bd8","strokeWidth":0.9,"strokeDash":[1.5,2]},
"encoding":{"x":{"datum":0,"type":"quantitative","scale":{"domain":[-103,106],"nice":false,"zero":false},"axis":null}}},
{"data":{"values":[{}]},"mark":{"type":"rule","stroke":"#7b7bd8","strokeWidth":0.9,"strokeDash":[1.5,2]},
"encoding":{"y":{"datum":0,"type":"quantitative","scale":{"domain":[-94,110],"nice":false,"zero":false},"axis":null}}},
{"data":{"name":"w"},"transform":[{"filter":"datum.p == 5"},{"fold":["c1","c2","c3","c4","c5","c6","c7","c8","c9"],"as":["k","v"]},{"filter":"datum.v > 0"},{"bin":{"step":22.5,"extent":[0,360],"nice":false},"field":"d","as":["a0","a1"]},{"stack":"v","groupby":["d"],"sort":[{"field":"k","order":"ascending"}],"as":["r0","r1"]}],
"mark":{"type":"arc","stroke":"#222","strokeWidth":0.5},
"encoding":{"x":{"datum":0,"type":"quantitative","scale":{"domain":[-103,106],"nice":false,"zero":false},"axis":null},"y":{"datum":0,"type":"quantitative","scale":{"domain":[-94,110],"nice":false,"zero":false},"axis":null},
"theta":{"field":"a0","type":"quantitative","scale":{"type":"linear","domain":[0,360],"range":[0,6.2832],"nice":false,"zero":false},"stack":null},"theta2":{"field":"a1"},
"radius":{"field":"r1","type":"quantitative","scale":{"type":"linear","domain":[0,30.8],"range":[0,100],"nice":false},"stack":null},"radius2":{"field":"r0"},
"fill":{"field":"k","type":"nominal","scale":{"domain":["c1","c2","c3","c4","c5","c6","c7","c8","c9"],"range":["#b2b2b2","#d4d4d4","#e9e9e9","#a3a3a3","#c9c9c9","#dedede","#6c6c6c","#0a0a0a","#ffffff"]},"legend":null}}},
{"data":{"name":"rg"},"transform":[{"filter":"datum.p == 5"}],
"mark":{"type":"text","align":"left","baseline":"middle","fontWeight":"bold","fontSize":10,"clip":true},
"encoding":{"x":{"datum":0,"type":"quantitative","scale":{"domain":[-103,106],"nice":false,"zero":false},"axis":null},"y":{"datum":0,"type":"quantitative","scale":{"domain":[-94,110],"nice":false,"zero":false},"axis":null},"theta":{"datum":47,"type":"quantitative","scale":{"type":"linear","domain":[0,360],"range":[0,6.2832],"nice":false,"zero":false},"stack":null},"radius":{"field":"r","type":"quantitative","scale":{"type":"linear","domain":[0,30.8],"range":[0,100],"nice":false},"stack":null},"text":{"field":"l"}}},
{"data":{"values":[{"t":"NORTH","a":0}]},"mark":{"type":"text","align":"left","baseline":"middle","dx":2,"fontWeight":"bold","fontSize":11,"clip":true},
"encoding":{"x":{"datum":0,"type":"quantitative","scale":{"domain":[-103,106],"nice":false,"zero":false},"axis":null},"y":{"datum":0,"type":"quantitative","scale":{"domain":[-94,110],"nice":false,"zero":false},"axis":null},"theta":{"field":"a","type":"quantitative","scale":{"type":"linear","domain":[0,360],"range":[0,6.2832],"nice":false,"zero":false},"stack":null},"radius":{"datum":31.4,"type":"quantitative","scale":{"type":"linear","domain":[0,30.8],"range":[0,100],"nice":false},"stack":null},"text":{"field":"t"}}},
{"data":{"values":[{"t":"SOUTH","a":180}]},"mark":{"type":"text","align":"left","baseline":"middle","dx":2,"fontWeight":"bold","fontSize":11,"clip":true},
"encoding":{"x":{"datum":0,"type":"quantitative","scale":{"domain":[-103,106],"nice":false,"zero":false},"axis":null},"y":{"datum":0,"type":"quantitative","scale":{"domain":[-94,110],"nice":false,"zero":false},"axis":null},"theta":{"field":"a","type":"quantitative","scale":{"type":"linear","domain":[0,360],"range":[0,6.2832],"nice":false,"zero":false},"stack":null},"radius":{"datum":27.7,"type":"quantitative","scale":{"type":"linear","domain":[0,30.8],"range":[0,100],"nice":false},"stack":null},"text":{"field":"t"}}},
{"data":{"values":[{"t":"WEST","a":270},{"t":"EAST","a":90}]},"mark":{"type":"text","align":"center","baseline":"middle","dy":4,"fontWeight":"bold","fontSize":11,"clip":true},
"encoding":{"x":{"datum":0,"type":"quantitative","scale":{"domain":[-103,106],"nice":false,"zero":false},"axis":null},"y":{"datum":0,"type":"quantitative","scale":{"domain":[-94,110],"nice":false,"zero":false},"axis":null},"theta":{"field":"a","type":"quantitative","scale":{"type":"linear","domain":[0,360],"range":[0,6.2832],"nice":false,"zero":false},"stack":null},"radius":{"datum":25.6,"type":"quantitative","scale":{"type":"linear","domain":[0,30.8],"range":[0,100],"nice":false},"stack":null},"text":{"field":"t"}}}
]}
]},
{"spacing":12,
"vconcat":[
{"width":170,"height":1,"data":{"values":[{}]},"mark":{"type":"point","opacity":0},"encoding":{},"view":{"stroke":null}},
{"width":170,"height":169,
"layer":[
{"data":{"name":"cls"},"mark":{"type":"rect","stroke":"#333","strokeWidth":0.8},
"encoding":{"x":{"datum":26,"type":"quantitative","scale":{"domain":[0,170],"nice":false,"zero":false},"axis":null},"x2":{"datum":56},
"y":{"field":"k","type":"nominal","scale":{"type":"band","domain":["t1","t2","c9","c8","c7","c6","c5","c4","c3","c2","c1"],"range":[7.8,160.8],"paddingInner":0.2254,"paddingOuter":0},"axis":null},
"fill":{"field":"k","type":"nominal","scale":{"domain":["c1","c2","c3","c4","c5","c6","c7","c8","c9"],"range":["#b2b2b2","#d4d4d4","#e9e9e9","#a3a3a3","#c9c9c9","#dedede","#6c6c6c","#0a0a0a","#ffffff"]},"legend":null}}},
{"data":{"name":"cls"},"mark":{"type":"text","align":"left","baseline":"middle","font":"DejaVu Sans","fontSize":11,"color":"#111"},
"encoding":{"x":{"datum":70,"type":"quantitative","scale":{"domain":[0,170],"nice":false,"zero":false},"axis":null},
"y":{"field":"k","type":"nominal","scale":{"type":"band","domain":["t1","t2","c9","c8","c7","c6","c5","c4","c3","c2","c1"],"range":[7.8,160.8],"paddingInner":0.2254,"paddingOuter":0},"axis":null},
"text":{"field":"label"}}},
{"data":{"values":[{"k":"t1","label":"WIND SPEED"},{"k":"t2","label":"(m/s)"}]},"mark":{"type":"text","align":"left","baseline":"middle","font":"DejaVu Sans","fontSize":12,"fontWeight":"bold","color":"#111"},
"encoding":{"x":{"datum":27,"type":"quantitative","scale":{"domain":[0,170],"nice":false,"zero":false},"axis":null},
"y":{"field":"k","type":"nominal","scale":{"type":"band","domain":["t1","t2","c9","c8","c7","c6","c5","c4","c3","c2","c1"],"range":[7.8,160.8],"paddingInner":0.2254,"paddingOuter":0},"axis":null},
"text":{"field":"label"}}}
]}
]}
]}
]
}
